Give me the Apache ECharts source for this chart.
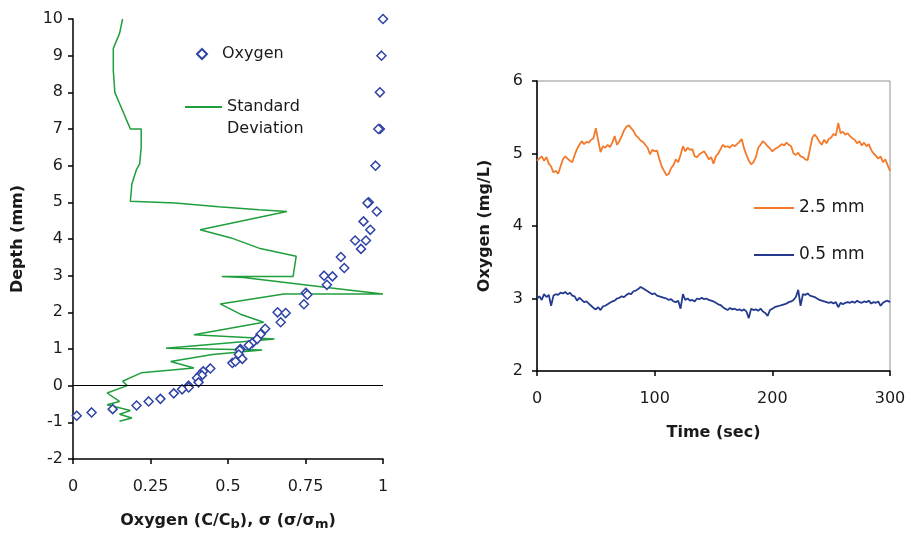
<!DOCTYPE html>
<html>
<head>
<meta charset="utf-8">
<script src="https://cdn.jsdelivr.net/npm/echarts@6/dist/echarts.min.js"></script>
<style>html,body{margin:0;padding:0;background:#fff}#c{width:920px;height:535px}</style>
</head>
<body>
<div id="c"></div>
<script>
// ---- Left panel: oxygen profile (C/Cb) vs depth ----
const oxygenValue = [1.0,0.995,0.99,0.99,0.985,0.976,0.954,0.95,0.98,0.937,0.959,0.91,0.945,0.929,0.864,0.875,0.81,0.837,0.819,0.751,0.756,0.745,0.66,0.686,0.67,0.62,0.605,0.594,0.578,0.567,0.54,0.538,0.535,0.546,0.514,0.524,0.443,0.42,0.41,0.416,0.40,0.405,0.373,0.373,0.352,0.325,0.282,0.244,0.205,0.128,0.06,0.012];
const oxygenDepth = [10.0,9.0,8.0,7.0,7.0,6.0,5.0,4.98,4.75,4.48,4.25,3.96,3.96,3.73,3.51,3.21,3.0,2.98,2.75,2.53,2.48,2.22,2.0,1.98,1.73,1.55,1.4,1.27,1.16,1.1,1.0,0.97,0.85,0.73,0.62,0.66,0.47,0.39,0.3,0.28,0.21,0.09,0.0,-0.05,-0.1,-0.21,-0.36,-0.43,-0.54,-0.64,-0.73,-0.82];
// standard deviation (sigma/sigma_m) vs depth
const stdDepth = [10,9.6,9.2,8.6,8.0,7.6,7.2,7.0,7.0,6.5,6.05,5.9,5.5,5.03,4.98,4.88,4.8,4.75,4.25,4.03,3.75,3.53,2.98,2.98,2.95,2.66,2.5,2.5,2.23,1.95,1.73,1.39,1.27,1.02,0.97,0.85,0.66,0.48,0.35,0.12,0.0,-0.2,-0.43,-0.52,-0.68,-0.78,-0.88,-0.97];
const stdValue = [0.16,0.15,0.13,0.13,0.135,0.155,0.175,0.185,0.22,0.22,0.215,0.205,0.19,0.185,0.33,0.47,0.6,0.69,0.41,0.51,0.6,0.72,0.71,0.48,0.55,0.84,1.0,0.68,0.475,0.54,0.615,0.39,0.65,0.30,0.61,0.45,0.315,0.39,0.22,0.16,0.175,0.11,0.15,0.11,0.185,0.15,0.19,0.15];
const leftXTicks = [0, 0.25, 0.5, 0.75, 1];
const leftYTicks = [-2,-1,0,1,2,3,4,5,6,7,8,9,10];

// ---- Right panel: oxygen time series, sampled every 2 s from 0 to 300 s ----
const timeStepSec = 2;
const oxygen25mm = [
 4.90,4.93,4.96,4.90,4.95,4.86,4.82,4.74,4.76,4.72,
 4.82,4.92,4.96,4.93,4.90,4.88,4.98,5.06,5.12,5.17,
 5.13,5.16,5.15,5.19,5.21,5.35,5.18,5.02,5.10,5.08,
 5.12,5.09,5.15,5.24,5.12,5.17,5.24,5.32,5.37,5.39,
 5.35,5.31,5.25,5.22,5.18,5.16,5.12,5.08,4.99,5.05,
 5.03,5.04,4.92,4.82,4.76,4.70,4.72,4.80,4.84,4.92,
 4.88,4.98,5.10,5.03,5.08,5.05,5.06,4.96,4.95,4.99,
 5.01,5.03,4.98,4.92,4.95,4.86,4.96,5.00,5.06,5.12,
 5.09,5.10,5.08,5.12,5.10,5.13,5.16,5.20,5.07,4.98,
 4.90,4.85,4.88,4.95,5.08,5.12,5.17,5.14,5.10,5.07,
 5.03,5.06,5.08,5.10,5.13,5.11,5.15,5.12,5.10,5.00,
 4.98,5.01,4.96,4.95,4.92,4.91,5.06,5.22,5.26,5.22,
 5.16,5.12,5.19,5.14,5.20,5.22,5.27,5.25,5.42,5.28,
 5.30,5.26,5.28,5.24,5.21,5.19,5.14,5.17,5.11,5.15,
 5.10,5.13,5.05,5.00,4.97,4.93,4.96,4.88,4.92,4.84,
 4.76];
const oxygen05mm = [
 3.00,3.03,2.98,3.06,3.02,3.05,2.90,3.04,3.06,3.05,
 3.08,3.07,3.09,3.06,3.08,3.04,3.03,2.97,3.01,2.98,
 2.95,2.96,2.93,2.90,2.87,2.85,2.88,2.84,2.89,2.90,
 2.92,2.94,2.96,2.97,3.00,3.01,3.03,3.02,3.05,3.07,
 3.06,3.10,3.11,3.13,3.16,3.14,3.12,3.10,3.08,3.06,
 3.07,3.04,3.03,3.02,3.01,3.00,2.98,2.99,2.96,2.95,
 2.97,2.86,3.06,2.98,3.00,2.97,2.98,2.96,3.00,2.99,
 3.01,2.99,3.00,2.98,2.97,2.96,2.94,2.92,2.91,2.88,
 2.86,2.84,2.87,2.85,2.86,2.84,2.85,2.83,2.85,2.82,
 2.73,2.86,2.84,2.85,2.83,2.86,2.82,2.80,2.76,2.84,
 2.86,2.88,2.89,2.90,2.91,2.92,2.93,2.95,2.96,2.98,
 3.02,3.12,2.90,3.06,3.05,3.07,3.04,3.03,3.02,3.00,
 2.98,2.97,2.96,2.95,2.94,2.95,2.93,2.95,2.88,2.94,
 2.92,2.94,2.95,2.94,2.96,2.94,2.97,2.95,2.94,2.96,
 2.95,2.97,2.93,2.95,2.94,2.96,2.90,2.94,2.96,2.97,
 2.95];
const rightXTicks = [0, 100, 200, 300];
const rightYTicks = [2, 3, 4, 5, 6];

const FONT = "'DejaVu Sans', 'Liberation Sans', Arial, sans-serif";
const TXT = '#1a1a1a';

const oxyPairs = oxygenValue.map((v, i) => [v, oxygenDepth[i]]);
const stdPairs = stdValue.map((v, i) => [v, stdDepth[i]]);
const p25 = oxygen25mm.map((v, i) => [i * timeStepSec, v]);
const p05 = oxygen05mm.map((v, i) => [i * timeStepSec, v]);

function label(margin) {
  return { color: TXT, fontSize: 16, fontFamily: FONT, margin: margin, showMinLabel: true, showMaxLabel: true };
}
function axisCommon(extra) {
  return Object.assign({
    type: 'value',
    splitLine: { show: false },
    axisLine: { show: true, onZero: false, lineStyle: { color: '#000', width: 1.5 } },
    axisTick: { show: true, length: 5, lineStyle: { color: '#000', width: 1.5 } },
    nameTextStyle: { color: TXT, fontSize: 16, fontWeight: 'bold', fontFamily: FONT },
    nameLocation: 'middle'
  }, extra);
}

const chart = echarts.init(document.getElementById('c'), null, { renderer: 'canvas' });
chart.setOption({
  animation: false,
  backgroundColor: '#fff',
  textStyle: { fontFamily: FONT },
  grid: [
    { left: 73, top: 19, width: 310, height: 440, containLabel: false, outerBoundsMode: 'none' },
    { left: 537, top: 81, width: 353, height: 290, show: true, borderColor: '#909090', borderWidth: 1, containLabel: false, outerBoundsMode: 'none' }
  ],
  xAxis: [
    axisCommon({ gridIndex: 0, min: leftXTicks[0], max: leftXTicks[leftXTicks.length - 1], interval: 0.25,
      name: 'Oxygen (C/C{sub|b}), σ (σ/σ{sub|m})', nameGap: 52,
      nameTextStyle: { color: TXT, fontSize: 16, fontWeight: 'bold', fontFamily: FONT,
        rich: { sub: { fontSize: 13, fontWeight: 'bold', fontFamily: FONT, color: TXT, padding: [7, 0, 0, 0] } } },
      axisLabel: label(20) }),
    axisCommon({ gridIndex: 1, min: rightXTicks[0], max: rightXTicks[rightXTicks.length - 1], interval: 100,
      name: 'Time (sec)', nameGap: 54, axisLabel: label(20) })
  ],
  yAxis: [
    axisCommon({ gridIndex: 0, min: leftYTicks[0], max: leftYTicks[leftYTicks.length - 1], interval: 1,
      name: 'Depth (mm)', nameGap: 47, axisLabel: label(10) }),
    axisCommon({ gridIndex: 1, min: rightYTicks[0], max: rightYTicks[rightYTicks.length - 1], interval: 1,
      name: 'Oxygen (mg/L)', nameGap: 44, axisLabel: label(14) })
  ],
  legend: [
    { data: ['Oxygen'], orient: 'vertical', left: 191, top: 38, itemWidth: 10, itemHeight: 10,
      textStyle: { color: TXT, fontSize: 16, fontFamily: FONT, lineHeight: 22, padding: [0, 0, 0, 10] } },
    { data: [{ name: 'Standard Deviation', icon: 'rect' }], orient: 'vertical', left: 180, top: 69, itemWidth: 37, itemHeight: 2,
      formatter: () => ' \nStandard\nDeviation',
      textStyle: { color: TXT, fontSize: 16, fontFamily: FONT, lineHeight: 22 } },
    { data: [{ name: '2.5 mm', icon: 'rect' }, { name: '0.5 mm', icon: 'rect' }], orient: 'vertical', left: 749, top: 193,
      itemWidth: 40, itemHeight: 2, itemGap: 27,
      textStyle: { color: TXT, fontSize: 17, fontFamily: FONT, lineHeight: 20 } }
  ],
  series: [
    { name: 'Standard Deviation', type: 'line', xAxisIndex: 0, yAxisIndex: 0, data: stdPairs,
      symbol: 'none', lineStyle: { color: '#1f9e3c', width: 1.5 }, itemStyle: { color: '#1f9e3c' }, z: 2 },
    { name: 'Oxygen', type: 'scatter', xAxisIndex: 0, yAxisIndex: 0, data: oxyPairs,
      symbol: 'diamond', symbolSize: 9,
      itemStyle: { color: '#fff', borderColor: '#2f43a6', borderWidth: 1.5, opacity: 1 }, z: 3,
      markLine: { silent: true, symbol: 'none', label: { show: false },
        lineStyle: { color: '#000', width: 1.2, type: 'solid' },
        data: [{ yAxis: 0 }] } },
    { name: '2.5 mm', type: 'line', xAxisIndex: 1, yAxisIndex: 1, data: p25,
      symbol: 'none', lineStyle: { color: '#f47a2b', width: 1.8 }, itemStyle: { color: '#f47a2b' } },
    { name: '0.5 mm', type: 'line', xAxisIndex: 1, yAxisIndex: 1, data: p05,
      symbol: 'none', lineStyle: { color: '#233a8f', width: 1.8 }, itemStyle: { color: '#233a8f' } }
  ]
});
</script>
</body>
</html>
